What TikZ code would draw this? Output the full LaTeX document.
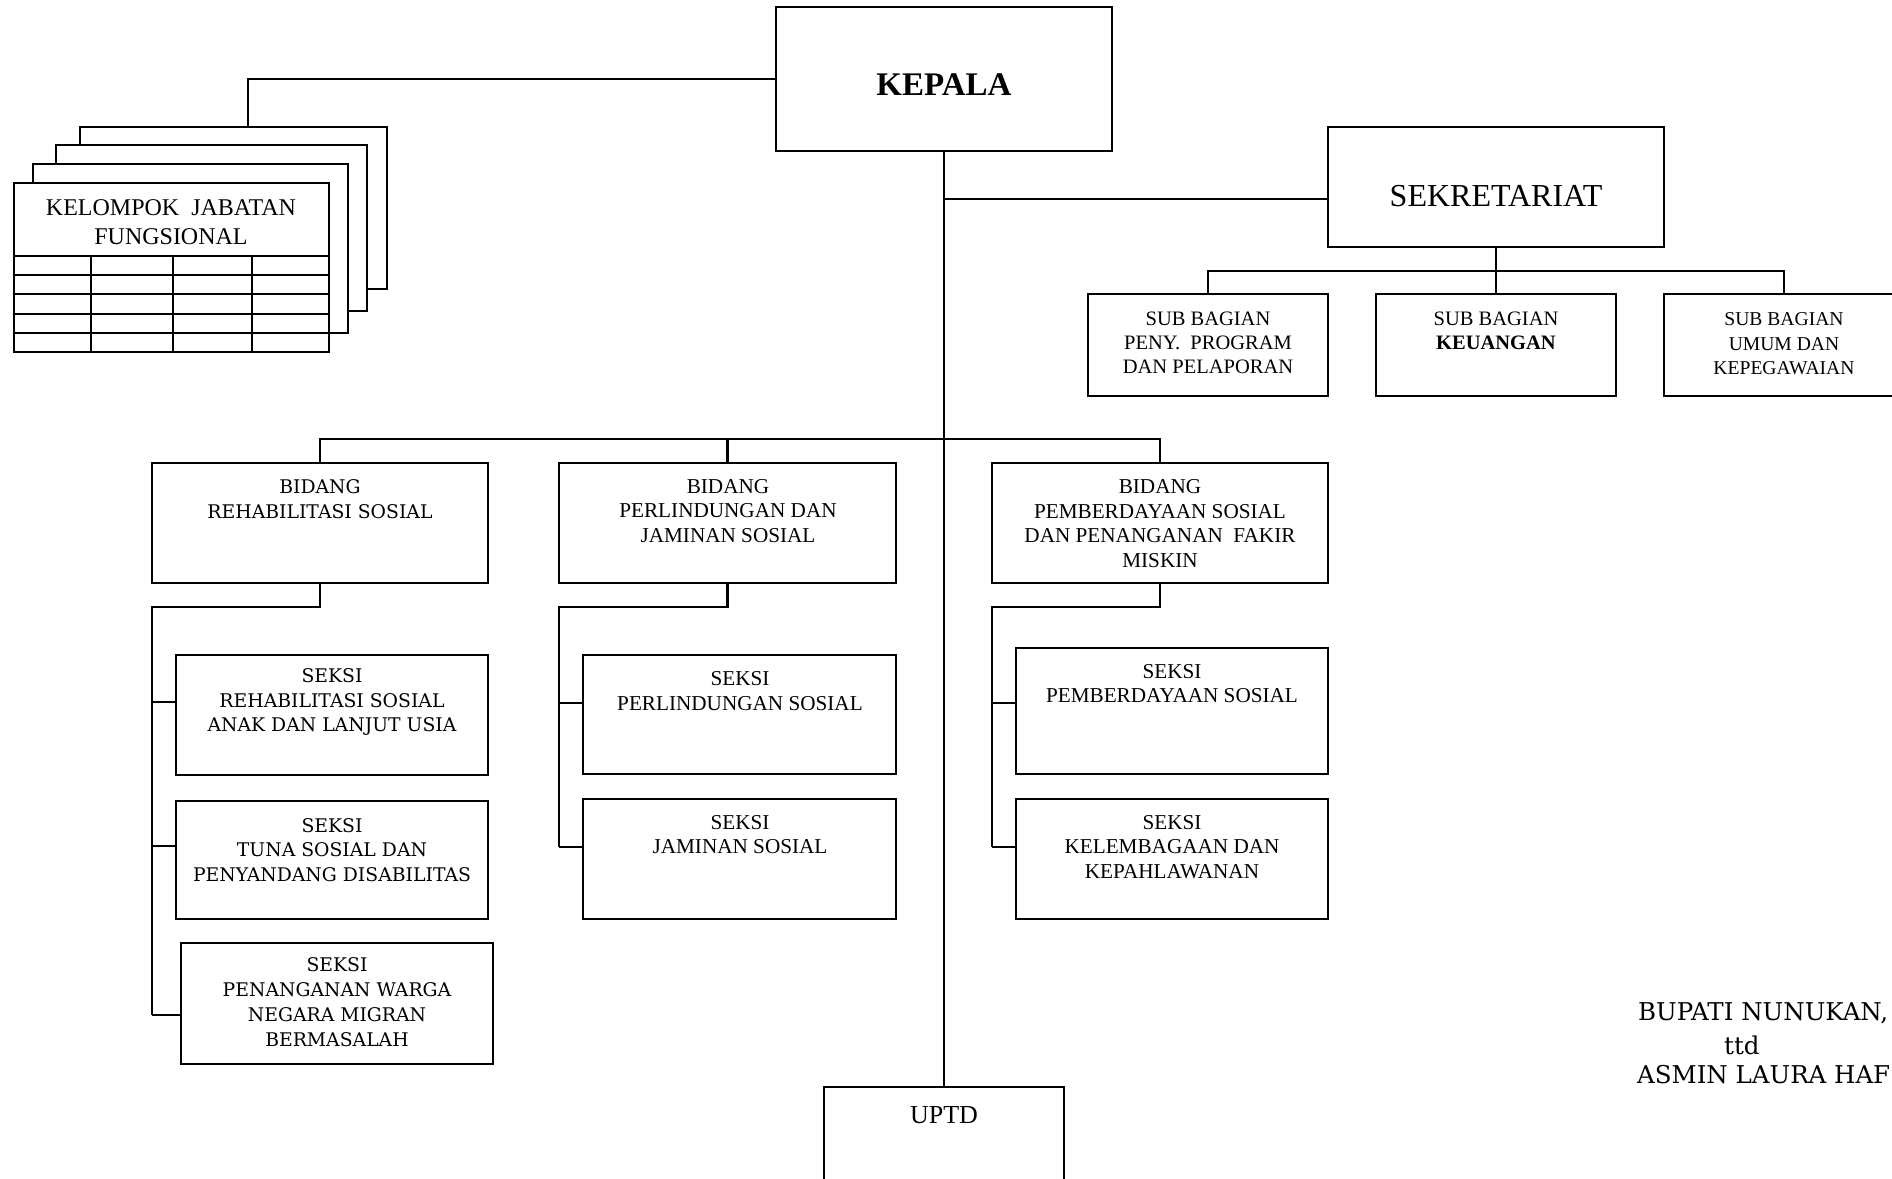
\documentclass[tikz,border=0pt]{standalone}
\usepackage{fontspec}
\setmainfont{Liberation Serif}
\newfontfamily\bookfont{DejaVu Serif}
\usetikzlibrary{fit}
\begin{document}
\begin{tikzpicture}[x=0.5pt, y=-0.5pt, line width=1.2pt,
  orgbox/.style={draw, fill=white, inner sep=0pt},
  sheet/.style={draw, fill=white, inner sep=0pt},
  lbl/.style={inner sep=0pt, align=center},
  tnr/.style={lbl, font=\fontsize{10.6pt}{12.25pt}\selectfont},
  bkm/.style={lbl, font=\bookfont\fontsize{9.4pt}{12.4pt}\selectfont},
  subtxt/.style={lbl, font=\fontsize{10.25pt}{12pt}\selectfont}]
\useasboundingbox (0,0) rectangle (1892,1179);
\clip (0,0) rectangle (1892,1179);

% kelompok jabatan fungsional
\node[sheet, fit={(80,127) (387,289)}] (sh4) {};
\node[sheet, fit={(56,145) (367,311)}] (sh3) {};
\node[sheet, fit={(33,164) (348,333)}] (sh2) {};
\node[sheet, fit={(14,183) (329,352)}] (sh1) {};
\foreach \y in {256,275,294,314,333}
  \draw[line width=1pt] (sh1.west |- 0,\y) -- (sh1.east |- 0,\y);
\foreach \x in {91,173,252}
  \draw[line width=1pt] (\x,256) -- (\x,256 |- sh1.south);
\node[lbl, font=\fontsize{12pt}{14.5pt}\selectfont] (kjf) at (171,222.5) {KELOMPOK\ \ JABATAN\\FUNGSIONAL};

% kepala and sekretariat
\node[orgbox, fit={(776,7) (1112,151)}] (kepala) {};
\node[lbl, font=\bfseries\fontsize{16.5pt}{18pt}\selectfont] (kepalat) at (944,84.5) {KEPALA};
\node[orgbox, fit={(1328,127) (1664,247)}] (sekr) {};
\node[lbl, font=\fontsize{16pt}{18pt}\selectfont] (sekrt) at (1496,196) {SEKRETARIAT};

\node[orgbox, fit={(1088,294) (1328,396)}] (sub1) {};
\node[subtxt] (sub1t) at (1208,343) {SUB BAGIAN\\PENY.\ \ PROGRAM\\DAN PELAPORAN};
\node[orgbox, fit={(1376,294) (1616,396)}] (sub2) {};
\node[subtxt] (sub2t) at (1496,330.5) {SUB BAGIAN\\\textbf{KEUANGAN}};
\node[orgbox, fit={(1664,294) (1904,396)}] (sub3) {};
\node[lbl, font=\fontsize{9.8pt}{12.2pt}\selectfont] (sub3t) at (1784,343.7) {SUB BAGIAN\\UMUM DAN\\KEPEGAWAIAN};

% bidang
\node[orgbox, fit={(152,463) (488,583)}] (bid1) {};
\node[bkm] (bid1t) at (320,499) {BIDANG\\REHABILITASI SOSIAL};
\node[orgbox, fit={(559,463) (896,583)}] (bid2) {};
\node[tnr] (bid2t) at (728,511) {BIDANG\\PERLINDUNGAN DAN\\JAMINAN SOSIAL};
\node[orgbox, fit={(992,463) (1328,583)}] (bid3) {};
\node[tnr] (bid3t) at (1160,523.4) {BIDANG\\PEMBERDAYAAN SOSIAL\\DAN PENANGANAN\ \ FAKIR\\MISKIN};

% seksi
\node[orgbox, fit={(176,655) (488,775)}] (sek1a) {};
\node[bkm] (sek1at) at (332,702) {SEKSI\\REHABILITASI SOSIAL\\ANAK DAN LANJUT USIA};
\node[orgbox, fit={(176,801) (488,919)}] (sek1b) {};
\node[bkm] (sek1bt) at (332,850) {SEKSI\\TUNA SOSIAL DAN\\PENYANDANG DISABILITAS};
\node[orgbox, fit={(181,943) (493,1064)}] (sek1c) {};
\node[bkm] (sek1ct) at (337,1002) {SEKSI\\PENANGANAN WARGA\\NEGARA MIGRAN\\BERMASALAH};
\node[orgbox, fit={(583,655) (896,774)}] (sek2a) {};
\node[tnr] (sek2at) at (740,691) {SEKSI\\PERLINDUNGAN SOSIAL};
\node[orgbox, fit={(583,799) (896,919)}] (sek2b) {};
\node[tnr] (sek2bt) at (740,834.5) {SEKSI\\JAMINAN SOSIAL};
\node[orgbox, fit={(1016,648) (1328,774)}] (sek3a) {};
\node[tnr] (sek3at) at (1172,683.4) {SEKSI\\PEMBERDAYAAN SOSIAL};
\node[orgbox, fit={(1016,799) (1328,919)}] (sek3b) {};
\node[tnr] (sek3bt) at (1172,847) {SEKSI\\KELEMBAGAAN DAN\\KEPAHLAWANAN};

% uptd
\node[orgbox, fit={(824,1087) (1064,1200)}] (uptd) {};
\node[lbl, font=\fontsize{13pt}{15pt}\selectfont] (uptdt) at (944,1115) {UPTD};

% connectors
\coordinate (kj) at (248,79);
\draw (kepala.west) -- (kj) -- (kj |- sh4.north);
\draw (kepala.south) -- (uptd.north);
\coordinate (tsek) at (944,199);
\draw (tsek) -- (tsek -| sekr.west);
\coordinate (sbus) at (1496,271);
\draw (sekr.south) -- (sbus);
\draw (sub1.north) |- (sub3.north |- sbus) -- (sub3.north);
\draw (sub2.north) -- (sub2.north |- sbus);
\coordinate (bbus) at (944,439);
\draw (bid1.north) |- (bid3.north |- bbus) -- (bid3.north);
\draw (bid2.north) -- (bid2.north |- bbus);

\coordinate (r0) at (152,607);
\coordinate (r1) at (152,702);
\coordinate (r2) at (152,846);
\coordinate (r3) at (152,1015);
\draw (bid1.south) |- (r0) -- (r3);
\draw (r1) -- (r1 -| sek1a.west);
\draw (r2) -- (r2 -| sek1b.west);
\draw (r3) -- (r3 -| sek1c.west);

\coordinate (p0) at (559,607);
\coordinate (p1) at (559,703);
\coordinate (p2) at (559,847);
\draw (bid2.south) |- (p0) -- (p2);
\draw (p1) -- (p1 -| sek2a.west);
\draw (p2) -- (p2 -| sek2b.west);

\coordinate (q0) at (992,607);
\coordinate (q1) at (992,703);
\coordinate (q2) at (992,847);
\draw (bid3.south) |- (q0) -- (q2);
\draw (q1) -- (q1 -| sek3a.west);
\draw (q2) -- (q2 -| sek3b.west);

% signature
\node[lbl, anchor=west, font=\bookfont\fontsize{12.25pt}{14pt}\selectfont] (bupati) at (1637,1013) {BUPATI NUNUKAN,};
\node[lbl, anchor=west, font=\bookfont\fontsize{12.25pt}{14pt}\selectfont] (ttd) at (1723,1045) {ttd};
\node[lbl, anchor=west, font=\bookfont\fontsize{12.25pt}{14pt}\selectfont] (asmin) at (1636,1075) {ASMIN LAURA HAF};
\end{tikzpicture}
\end{document}
